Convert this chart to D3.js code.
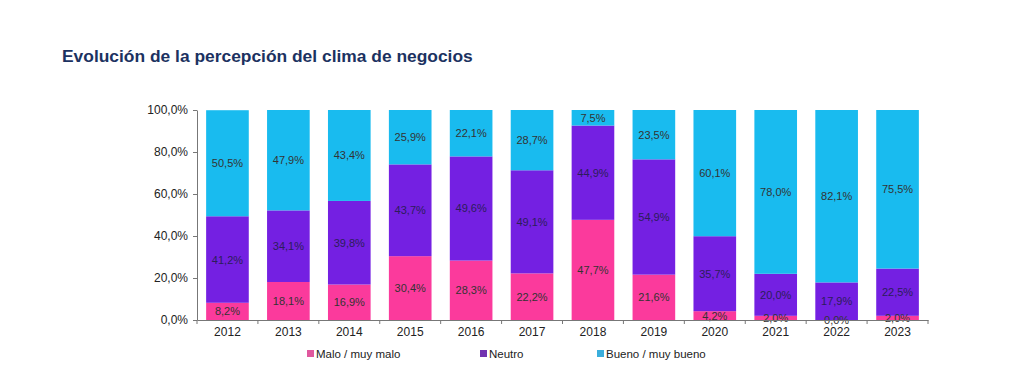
<!DOCTYPE html>
<html>
<head>
<meta charset="utf-8">
<script src="https://cdn.jsdelivr.net/npm/d3@7"></script>
<style>
  body { margin: 0; background: #fff; }
  text { font-family: "Liberation Sans", Arial, sans-serif; }
</style>
</head>
<body>
<svg id="chart"></svg>
<script>
// datos
var years = ["2012", "2013", "2014", "2015", "2016", "2017", "2018", "2019", "2020", "2021", "2022", "2023"];
var malo = [8.2, 18.1, 16.9, 30.4, 28.3, 22.2, 47.7, 21.6, 4.2, 2.0, 0.0, 2.0];
var neutro = [41.2, 34.1, 39.8, 43.7, 49.6, 49.1, 44.9, 54.9, 35.7, 20.0, 17.9, 22.5];
var bueno = [50.5, 47.9, 43.4, 25.9, 22.1, 28.7, 7.5, 23.5, 60.1, 78.0, 82.1, 75.5];
var seriesNames = ["Malo / muy malo", "Neutro", "Bueno / muy bueno"];
var yTicks = [0, 20, 40, 60, 80, 100];

var width = 1024, height = 377;
var margin = {top: 110, right: 96, bottom: 57, left: 197};
var colors = ["#fb3a9c", "#7420e2", "#19bbef"];
var legendColors = ["#e0589e", "#7233b0", "#3aaedc"];

var svg = d3.select("#chart")
    .attr("width", width)
    .attr("height", height);

// título
svg.append("text")
    .attr("x", 62)
    .attr("y", 62)
    .attr("fill", "#1c3261")
    .attr("font-size", 17.4)
    .attr("font-weight", "bold")
    .text("Evolución de la percepción del clima de negocios");

var table = years.map((y, i) => ({year: y, malo: malo[i], neutro: neutro[i], bueno: bueno[i]}));
var keys = ["malo", "neutro", "bueno"];
var stack = d3.stack().keys(keys)(table);

var x = d3.scaleBand()
    .domain(years)
    .range([margin.left, width - margin.right])
    .paddingInner(0.3)
    .paddingOuter(0.15);

var y = d3.scaleLinear()
    .domain([0, 100])
    .range([height - margin.bottom, margin.top]);

// barras
stack.forEach((layer, k) => {
    svg.append("g")
        .selectAll("rect")
        .data(layer)
        .join("rect")
        .attr("x", d => x(d.data.year))
        .attr("width", x.bandwidth())
        .attr("y", d => y(Math.min(d[1], 100)))
        .attr("height", d => Math.max(0, y(d[0]) - y(Math.min(d[1], 100))))
        .attr("fill", colors[k]);
});

// etiquetas
stack.forEach((layer, k) => {
    svg.append("g")
        .selectAll("text")
        .data(layer)
        .join("text")
        .attr("x", d => x(d.data.year) + x.bandwidth() / 2)
        .attr("y", d => y((d[0] + Math.min(d[1], 100)) / 2) + 4)
        .attr("text-anchor", "middle")
        .attr("font-size", 11)
        .attr("fill", k == 1 ? "#2c1d5a" : "#333")
        .text(d => d3.format(".1f")(d[1] - d[0]).replace(".", ",") + "%");
});

// eje y
var yAxis = svg.append("g")
    .attr("transform", `translate(${margin.left},0)`)
    .call(d3.axisLeft(y).tickValues(yTicks).tickSize(4).tickSizeOuter(0)
        .tickFormat(d => d3.format(".1f")(d).replace(".", ",") + "%"));
yAxis.selectAll("text").attr("font-size", 12).attr("fill", "#222").attr("dx", -2)
    .attr("font-family", "Liberation Sans, Arial, sans-serif");
yAxis.selectAll("line, path").attr("stroke", "#777");

// eje x
var xAxis = svg.append("g")
    .attr("transform", `translate(0,${height - margin.bottom})`)
    .call(d3.axisBottom(x).tickSize(0).tickSizeOuter(0).tickPadding(7));
xAxis.selectAll("text").attr("font-size", 12).attr("fill", "#222")
    .attr("font-family", "Liberation Sans, Arial, sans-serif");
xAxis.select("path").attr("stroke", "#777");
xAxis.selectAll(".sep")
    .data(d3.range(years.length + 1))
    .join("line")
    .attr("class", "sep")
    .attr("x1", i => x.range()[0] + i * x.step())
    .attr("x2", i => x.range()[0] + i * x.step())
    .attr("y1", 0)
    .attr("y2", 4)
    .attr("stroke", "#777");

// leyenda
var legendX = [307, 480, 597];
seriesNames.forEach((name, i) => {
    var g = svg.append("g").attr("transform", `translate(${legendX[i]},354)`);
    g.append("rect")
        .attr("x", 0).attr("y", -4)
        .attr("width", 7).attr("height", 7)
        .attr("fill", legendColors[i]);
    g.append("text")
        .attr("x", 9).attr("y", 4)
        .attr("font-size", 11.5)
        .attr("fill", "#222")
        .text(name);
});
</script>
</body>
</html>
